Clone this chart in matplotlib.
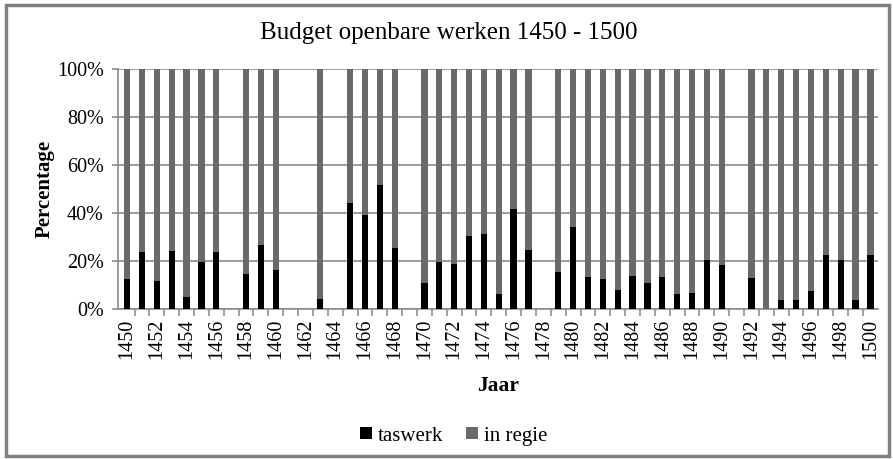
import matplotlib
matplotlib.use("Agg")
import matplotlib.pyplot as plt
from matplotlib.patches import Rectangle
import numpy as np

# data; None = no bar that year
years = list(range(1450, 1501))
taswerk = [
    12.4, 23.8, 11.6, 24.0, 4.9, 19.5, 23.8, None, 14.6, 26.6,   # 1450-1459
    16.2, None, None, 4.2, None, 44.3, 39.3, 51.5, 25.3, None,   # 1460-1469
    10.9, 19.6, 18.9, 30.4, 31.2, 6.4, 41.5, 24.7, None, 15.2,   # 1470-1479
    34.0, 13.2, 12.4, 7.9, 13.8, 10.9, 13.1, 6.1, 6.7, 20.3,     # 1480-1489
    18.2, None, 12.7, 0.0, 3.6, 3.9, 7.5, 22.3, 20.2, 3.9,       # 1490-1499
    22.3,                                                        # 1500
]
series_names = ["taswerk", "in regie"]

present = [i for i, v in enumerate(taswerk) if v is not None]
x = np.array(present)
tas = np.array([taswerk[i] for i in present])
regie = 100 - tas

plt.rcParams["font.family"] = ["Liberation Serif", "DejaVu Serif"]

fig = plt.figure(figsize=(8.93, 4.59), dpi=100)
ax = fig.add_axes([0.132, 0.327, 0.851, 0.523])

black = "#000000"
grey = "#696969"
w = 0.42
ax.bar(x, tas, width=w, color=black, label=series_names[0], zorder=3)
ax.bar(x, regie, width=w, bottom=tas, color=grey, label=series_names[1], zorder=3)

ax.set_ylim(0, 100)
ax.set_xlim(-0.62, 50.5)
ax.set_yticks(np.arange(0, 101, 20))
ax.set_yticklabels([f"{v}%" for v in range(0, 101, 20)], fontsize=14.5)
ax.yaxis.grid(True, color="#8c8c8c", linewidth=1.2, zorder=0)
ax.tick_params(axis="y", length=4, color="#8c8c8c", width=1.2, pad=6)

ax.set_xticks(np.arange(0, 51, 2))
ax.set_xticklabels([str(years[i]) for i in range(0, 51, 2)], rotation=90, fontsize=14.5)
ax.set_xticks(np.arange(0.5, 50.5, 1), minor=True)
ax.tick_params(axis="x", which="major", length=0, pad=7)
ax.tick_params(axis="x", which="minor", length=5, color="#8c8c8c", width=1.2)

for s in ["top", "right"]:
    ax.spines[s].set_visible(False)
for s in ["left", "bottom"]:
    ax.spines[s].set_color("#8c8c8c")
    ax.spines[s].set_linewidth(1.2)

ax.set_xlabel("Jaar", fontsize=15.5, fontweight="bold", labelpad=12)
ax.set_ylabel("Percentage", fontsize=15, fontweight="bold", labelpad=2)

fig.text(0.503, 0.928, "Budget openbare werken 1450 - 1500", ha="center", va="center", fontsize=18)

fig.legend(loc="center", bbox_to_anchor=(0.508, 0.05), ncol=2, frameon=False,
           fontsize=15, handlelength=0.55, handleheight=0.55, handletextpad=0.3,
           columnspacing=1.1)

fig.patches.append(Rectangle((0.007, 0.006), 0.988, 0.984, transform=fig.transFigure,
                             fill=False, edgecolor="#808080", linewidth=2.5))

fig.savefig("out.png", dpi=100)
